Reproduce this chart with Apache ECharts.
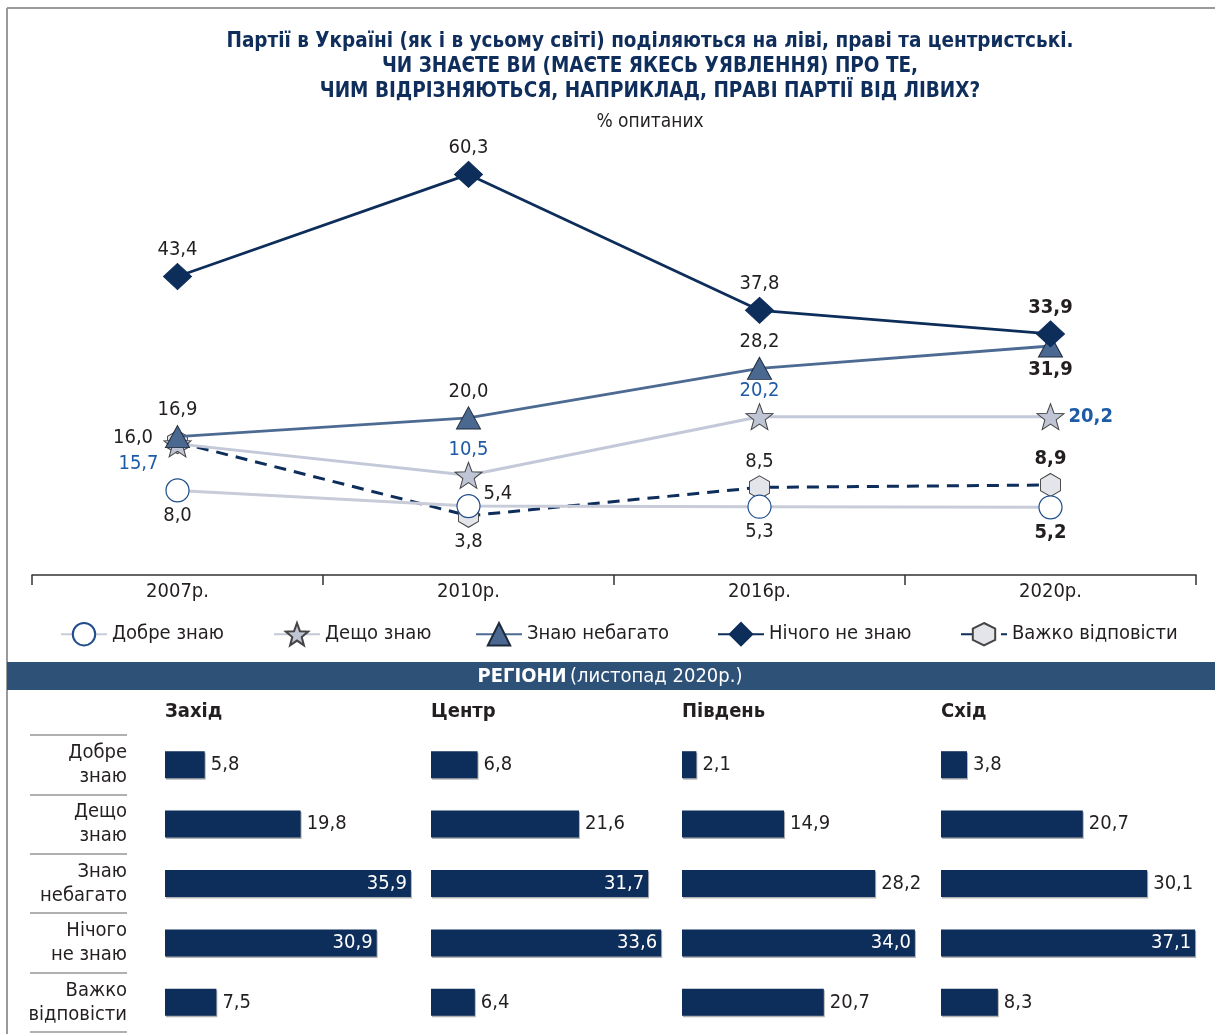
<!DOCTYPE html>
<html><head><meta charset="utf-8">
<script src="https://cdn.jsdelivr.net/npm/echarts@6/dist/echarts.min.js"></script>
<style>html,body{margin:0;padding:0;background:#fff}#c{width:1215px;height:1034px}</style>
</head><body><div id="c"></div>
<script>
// ---- data ----
const years = ['2007р.', '2010р.', '2016р.', '2020р.'];
const seriesNames = ['Добре знаю', 'Дещо знаю', 'Знаю небагато', 'Нічого не знаю', 'Важко відповісти'];
const dobre = [8.0, 5.4, 5.3, 5.2];
const deshcho = [15.7, 10.5, 20.2, 20.2];
const nebahato = [16.9, 20.0, 28.2, 31.9];
const nichoho = [43.4, 60.3, 37.8, 33.9];
const vazhko = [16.0, 3.8, 8.5, 8.9];

const regions = ['Захід', 'Центр', 'Південь', 'Схід'];
const barCats = ['Добре\nзнаю', 'Дещо\nзнаю', 'Знаю\nнебагато', 'Нічого\nне знаю', 'Важко\nвідповісти'];
const zakhid = [5.8, 19.8, 35.9, 30.9, 7.5];
const tsentr = [6.8, 21.6, 31.7, 33.6, 6.4];
const pivden = [2.1, 14.9, 28.2, 34.0, 20.7];
const skhid = [3.8, 20.7, 30.1, 37.1, 8.3];
const regionValues = [zakhid, tsentr, pivden, skhid];

// ---- styling ----
const FONT = "'Liberation Sans Narrow','DejaVu Sans Condensed','Arial Narrow',sans-serif";
const NAVY = '#0d2d5a';
const DARK = '#231f20';
const BLUE = '#1e5ba6';
const fmt = v => v.toFixed(1).replace('.', ',');

const STAR = 'path://M0,-100 L24.7,-34 L95.1,-30.9 L39.9,13 L58.8,80.9 L0,42 L-58.8,80.9 L-39.9,13 L-95.1,-30.9 L-24.7,-34 Z';
const HEX = 'path://M0,-100 L86.6,-50 L86.6,50 L0,100 L-86.6,50 L-86.6,-50 Z';

const labelPos = {
  dobre:    [{p:'bottom',d:3},{p:'right',d:3,o:[0,-12]},{p:'bottom',d:3},{p:'bottom',d:3}],
  deshcho:  [{p:'left',d:5,o:[0,20]},{p:'top',d:2},{p:'top',d:2},{p:'right',d:4}],
  nebahato: [{p:'top',d:5},{p:'top',d:5},{p:'top',d:5},{p:'bottom',d:2}],
  nichoho:  [{p:'top',d:3},{p:'top',d:3},{p:'top',d:3},{p:'top',d:3}],
  vazhko:   [{p:'left',d:14,o:[0,-4]},{p:'bottom',d:4},{p:'top',d:4},{p:'top',d:4}]
};
function mk(vals, pos) {
  return vals.map((v, i) => ({
    value: v,
    label: { position: pos[i].p, distance: pos[i].d, offset: pos[i].o || [0, 0],
             fontWeight: i === vals.length - 1 ? 'bold' : 'normal' }
  }));
}
function lineSeries(name, vals, pos, o) {
  return {
    type: 'line', name: name, data: mk(vals, pos), xAxisIndex: 0, yAxisIndex: 0,
    symbol: o.symbol, symbolSize: o.size, symbolKeepAspect: false, z: o.z,
    lineStyle: { color: o.line, width: o.width || 3, type: o.dash ? [12, 8] : 'solid' },
    itemStyle: { color: o.fill, borderColor: o.border, borderWidth: o.bw || 1, opacity: 1 },
    label: { show: true, formatter: p => fmt(p.value), fontFamily: FONT, fontSize: 20,
             color: o.labelColor || DARK },
    emphasis: { disabled: true }, animation: false
  };
}

const series = [
  lineSeries(seriesNames[0], dobre, labelPos.dobre, {symbol:'circle', size:23, z:4, line:'#c8ccd9', fill:'#ffffff', border:'#1f4e8a', bw:1.2}),
  lineSeries(seriesNames[1], deshcho, labelPos.deshcho, {symbol:STAR, size:[27,26], z:3, line:'#c3c9d8', fill:'#bfc5d4', border:'#444', labelColor:BLUE}),
  lineSeries(seriesNames[2], nebahato, labelPos.nebahato, {symbol:'triangle', size:[24,22], z:5, line:'#4d6b92', width:2.8, fill:'#4b6890', border:'#1e2a3a'}),
  lineSeries(seriesNames[3], nichoho, labelPos.nichoho, {symbol:'diamond', size:[28,26], z:6, line:NAVY, width:2.8, fill:NAVY, border:NAVY}),
  lineSeries(seriesNames[4], vazhko, labelPos.vazhko, {symbol:HEX, size:[20,23], z:2, line:NAVY, width:3, dash:true, fill:'#e3e5ea', border:'#444'})
];

const barLefts = [165, 431, 682, 941];
const grids = [{ left: 32, right: 19, top: 146, height: 429 }];
const xAxes = [{
  type: 'category', data: years, gridIndex: 0, boundaryGap: true,
  axisLine: { onZero: false, lineStyle: { color: '#333', width: 1.5 } },
  axisTick: { show: true, length: 10, lineStyle: { color: '#333', width: 1.5 } },
  axisLabel: { fontFamily: FONT, fontSize: 20, color: DARK, margin: 7 }
}];
const yAxes = [{ type: 'value', gridIndex: 0, min: -6, max: 65, show: false }];

regionValues.forEach((vals, k) => {
  const gi = k + 1;
  grids.push({ left: barLefts[k], width: 274, top: 735, height: 297 });
  xAxes.push({ type: 'value', gridIndex: gi, min: 0, max: 40, show: false });
  yAxes.push({ type: 'category', gridIndex: gi, data: barCats, inverse: true, show: false });
  series.push({
    type: 'bar', name: regions[k], xAxisIndex: gi, yAxisIndex: gi, barWidth: 27,
    data: vals.map(v => {
      const inside = v > 30.5;
      return { value: v, label: { position: inside ? 'insideRight' : 'right', color: inside ? '#fff' : DARK,
               distance: inside ? 4 : 6 } };
    }),
    itemStyle: { color: NAVY, shadowColor: 'rgba(0,0,0,0.3)', shadowOffsetX: 1, shadowOffsetY: 1.5, shadowBlur: 0 },
    label: { show: true, formatter: p => fmt(p.value), fontFamily: FONT, fontSize: 20 },
    emphasis: { disabled: true }, animation: false
  });
});
// category label column
grids.push({ left: 30, width: 97, top: 735, height: 297 });
xAxes.push({ type: 'value', gridIndex: 5, show: false });
yAxes.push({
  type: 'category', gridIndex: 5, data: barCats, inverse: true, position: 'right',
  axisLine: { show: false }, axisTick: { show: false },
  axisLabel: { inside: true, margin: 0, align: 'right', fontFamily: FONT, fontSize: 20, lineHeight: 24, color: DARK, interval: 0 },
  splitLine: { show: true, interval: 0, lineStyle: { color: '#b0b0b0', width: 2 } }
});

const legendLefts = [55, 268, 470, 712, 955];
const legends = seriesNames.map((n, i) => ({
  data: [n], left: legendLefts[i], top: 617, itemWidth: 46, itemHeight: 28, itemGap: 6,
  textStyle: { fontFamily: FONT, fontSize: 20, color: DARK }, selectedMode: false
}));

const titleLines = ['Партії в Україні (як і в усьому світі) поділяються на ліві, праві та центристські.',
  'ЧИ ЗНАЄТЕ ВИ (МАЄТЕ ЯКЕСЬ УЯВЛЕННЯ) ПРО ТЕ,', 'ЧИМ ВІДРІЗНЯЮТЬСЯ, НАПРИКЛАД, ПРАВІ ПАРТІЇ ВІД ЛІВИХ?'];
const graphics = [
  { type: 'line', shape: { x1: 7, y1: 8, x2: 1215, y2: 8 }, style: { stroke: '#9a9a9a', lineWidth: 2 } },
  { type: 'line', shape: { x1: 7, y1: 8, x2: 7, y2: 1034 }, style: { stroke: '#9a9a9a', lineWidth: 2 } },
  { type: 'rect', shape: { x: 7, y: 662, width: 1208, height: 28 }, style: { fill: '#2e5177' } },
  { type: 'text', x: 610, y: 677, style: { text: '{b|РЕГІОНИ} {n|(листопад 2020р.)}', textAlign: 'center', textVerticalAlign: 'middle', verticalAlign: 'middle',
      rich: { b: { fontFamily: FONT, fontSize: 20, fontWeight: 'bold', fill: '#fff', color: '#fff' }, n: { fontFamily: FONT, fontSize: 20, fill: '#fff', color: '#fff' } } } },
  { type: 'text', x: 650, y: 122, style: { text: '% опитаних', fontFamily: FONT, fontSize: 19, fill: DARK, textAlign: 'center', textVerticalAlign: 'middle', verticalAlign: 'middle' } }
];
titleLines.forEach((t, i) => graphics.push({ type: 'text', x: 650, y: 42 + i * 25,
  style: { text: t, fontFamily: FONT, fontSize: 20.5, fontWeight: 'bold', fill: '#0f2e5c', textAlign: 'center', textVerticalAlign: 'middle', verticalAlign: 'middle' } }));
regions.forEach((r, k) => graphics.push({ type: 'text', x: barLefts[k], y: 712,
  style: { text: r, fontFamily: FONT, fontSize: 20, fontWeight: 'bold', fill: DARK, textAlign: 'left', textVerticalAlign: 'middle', verticalAlign: 'middle' } }));

const chart = echarts.init(document.getElementById('c'), null, { renderer: 'canvas' });
chart.setOption({
  animation: false,
  backgroundColor: '#fff',
  grid: grids, xAxis: xAxes, yAxis: yAxes, legend: legends, series: series, graphic: graphics
});
</script></body></html>
